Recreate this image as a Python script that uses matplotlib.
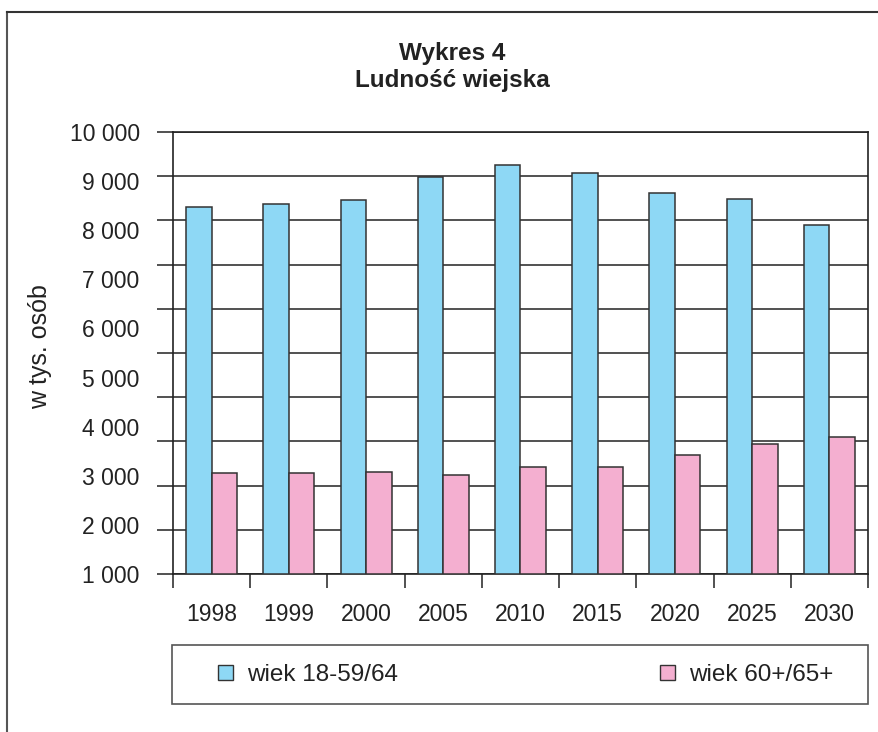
import numpy as np
import matplotlib
matplotlib.use("Agg")
import matplotlib.pyplot as plt
from matplotlib.lines import Line2D
from matplotlib.patches import Patch, Rectangle

plt.rcParams['font.family'] = ['Liberation Sans', 'DejaVu Sans']

lata = ['1998', '1999', '2000', '2005', '2010', '2015', '2020', '2025', '2030']
wiek_prod = [8300, 8370, 8460, 8975, 9245, 9080, 8630, 8490, 7890]   # wiek 18-59/64
wiek_post = [2290, 2290, 2300, 2235, 2430, 2415, 2685, 2940, 3105]   # wiek 60+/65+
etykiety_y = ['1 000', '2 000', '3 000', '4 000', '5 000',
              '6 000', '7 000', '8 000', '9 000', '10 000']

niebieski = '#8ed8f5'
rozowy = '#f4afd0'
ciemny = '#333333'

W, H = 879, 732
fig = plt.figure(figsize=(W / 100, H / 100), dpi=100)
ax = fig.add_axes([173 / W, 1 - 574 / H, (868 - 173) / W, (574 - 132) / H])

x = np.arange(len(lata))
szer = 0.33
ax.bar(x - szer / 2, wiek_prod, szer, color=niebieski, edgecolor=ciemny, linewidth=1.1, zorder=3)
ax.bar(x + szer / 2, wiek_post, szer, color=rozowy, edgecolor=ciemny, linewidth=1.1, zorder=3)

ax.set_xlim(-0.5, len(lata) - 0.5)
ax.set_ylim(0, 10000)

# gridlines / ticks every 1000, labels spread evenly as in the original
ax.yaxis.remove_overlapping_locs = False
ax.set_yticks(np.arange(0, 10001, 1000))
ax.set_yticklabels([])
ax.set_yticks(np.linspace(0, 10000, len(etykiety_y)), minor=True)
ax.set_yticklabels(etykiety_y, minor=True, fontsize=16.5, color='#222222')
ax.tick_params(axis='y', which='major', direction='out', length=11.5, width=1.2, color=ciemny)
ax.tick_params(axis='y', which='minor', length=0, pad=24)
ax.yaxis.grid(True, which='major', color=ciemny, linewidth=1.2, zorder=0)

ax.set_xticks(np.arange(len(lata) + 1) - 0.5)
ax.set_xticklabels([])
ax.set_xticks(x, minor=True)
ax.set_xticklabels(lata, minor=True, fontsize=16.5, color='#222222')
ax.tick_params(axis='x', which='major', direction='out', length=10, width=1.2, color=ciemny)
ax.tick_params(axis='x', which='minor', length=0, pad=21)

for s in ax.spines.values():
    s.set_color('#222222')
    s.set_linewidth(1.2)
ax.set_axisbelow(True)

fig.text(40 / W, 1 - 347 / H, 'w tys. osób', rotation=90, fontsize=18,
         ha='center', va='center', color='#222222')

fig.text(452 / W, 1 - 60 / H, 'Wykres 4', fontsize=17.5, fontweight='bold',
         ha='center', va='baseline', color='#222222')
fig.text(452 / W, 1 - 87 / H, 'Ludność wiejska', fontsize=17.5, fontweight='bold',
         ha='center', va='baseline', color='#222222')

# legend: frame drawn separately, two entries placed like in the original
fig.add_artist(Rectangle((172 / W, 1 - 704 / H), (868 - 172) / W, (704 - 645) / H,
                         transform=fig.transFigure, facecolor='white',
                         edgecolor='#555555', linewidth=1.2))
wpisy = [(niebieski, 'wiek 18-59/64', 218), (rozowy, 'wiek 60+/65+', 660)]
for kolor, opis, xp in wpisy:
    lg = fig.legend([Patch(facecolor=kolor, edgecolor=ciemny, linewidth=1)], [opis],
                    loc='center left', bbox_to_anchor=(xp / W, 1 - 675 / H),
                    fontsize=17.5, handlelength=0.6, handleheight=0.6,
                    handletextpad=0.6, borderpad=0, borderaxespad=0, frameon=False)
    for t in lg.get_texts():
        t.set_color('#222222')

# outer frame (top and left edges)
fig.add_artist(Line2D([7 / W, 7 / W], [0, 1 - 12 / H], transform=fig.transFigure,
                      color='#555555', linewidth=1.5))
fig.add_artist(Line2D([7 / W, 1], [1 - 12 / H, 1 - 12 / H], transform=fig.transFigure,
                      color='#333333', linewidth=1.5))

fig.savefig('out.png', dpi=100)
